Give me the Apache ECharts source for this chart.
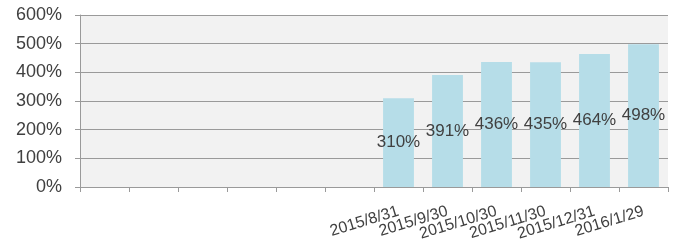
<!DOCTYPE html>
<html>
<head>
<meta charset="utf-8">
<script src="https://cdn.jsdelivr.net/npm/echarts@6/dist/echarts.min.js"></script>
<style>
  html, body { margin: 0; padding: 0; background: #fff; }
  #chart { width: 675px; height: 241px; }
</style>
</head>
<body>
<div id="chart"></div>
<script>
// 12 category slots, the first six are empty in the source chart
const categories = ['', '', '', '', '', '', '2015/8/31', '2015/9/30', '2015/10/30', '2015/11/30', '2015/12/31', '2016/1/29']
const values = [null, null, null, null, null, null, 310, 391, 436, 435, 464, 498]
const yTicks = [0, 100, 200, 300, 400, 500, 600]

const myChart = echarts.init(document.getElementById('chart'))

const axisGray = '#9a9a9a'
const textColor = '#404040'
const font = 'Liberation Sans, Arial, sans-serif'

const option = {
  animation: false,
  backgroundColor: '#ffffff',
  textStyle: { fontFamily: font },
  grid: {
    left: 80,
    right: 7,
    top: 15,
    bottom: 54,
    outerBoundsMode: 'none',
    show: true,
    backgroundColor: '#f2f2f2',
    borderWidth: 0
  },
  xAxis: {
    type: 'category',
    data: categories,
    axisLine: { show: true, lineStyle: { color: axisGray, width: 1 } },
    axisTick: { show: true, interval: 0, length: 5, lineStyle: { color: axisGray } },
    axisLabel: {
      interval: 0,
      rotate: 17,
      color: textColor,
      fontSize: 16,
      fontFamily: font,
      margin: 24
    }
  },
  yAxis: {
    type: 'value',
    min: yTicks[0],
    max: yTicks[yTicks.length - 1],
    interval: 100,
    axisLine: { show: true, lineStyle: { color: axisGray, width: 1 } },
    axisTick: { show: true, length: 5, lineStyle: { color: axisGray } },
    splitLine: { show: true, lineStyle: { color: axisGray, width: 1 } },
    axisLabel: {
      color: textColor,
      fontSize: 18,
      fontFamily: font,
      margin: 18,
      formatter: '{value}%'
    }
  },
  series: [
    {
      type: 'bar',
      data: values,
      barWidth: '63%',
      itemStyle: { color: '#b6dde8' },
      label: {
        show: true,
        position: 'inside',
        color: textColor,
        fontSize: 17,
        fontFamily: font,
        formatter: '{c}%'
      }
    }
  ]
}
option && myChart.setOption(option)
</script>
</body>
</html>
